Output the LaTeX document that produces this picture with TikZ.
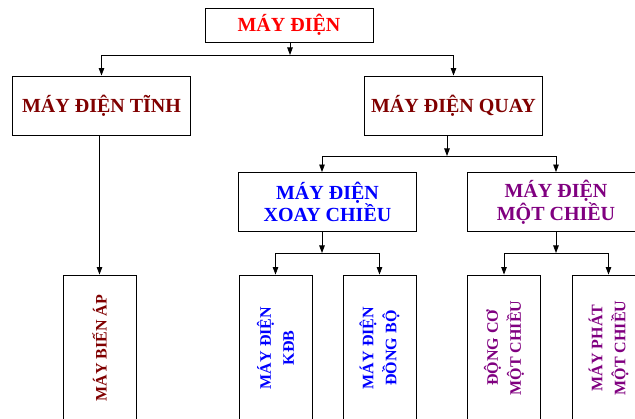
\documentclass[tikz,border=0pt]{standalone}
\usepackage{fontspec}
\setmainfont{Liberation Serif}
\usetikzlibrary{arrows.meta}

\definecolor{dkred}{RGB}{128,0,0}
\definecolor{dkpurple}{RGB}{128,0,128}

\tikzset{
  box/.style={draw, line width=0.9pt, align=center, inner sep=0pt,
    font=\fontsize{20}{20}\selectfont\bfseries},
  hbox/.style={box, minimum width=178pt, minimum height=59pt},
  vbox/.style={draw, line width=0.9pt, minimum width=73pt, minimum height=146pt, inner sep=0pt},
  vtext/.style={rotate=90, align=center, inner sep=0pt,
    font=\fontsize{16}{23}\selectfont\bfseries},
  arr/.style={line width=0.8pt, -{Triangle[length=7.5pt,width=5.5pt]}}
}

\begin{document}
\begin{tikzpicture}[x=1pt, y=-1pt]

\useasboundingbox (0,0) rectangle (635,419);
\clip (0,0) rectangle (635,419);

\node[box, minimum width=168pt, minimum height=34pt, text=red] (may) at (289,25) {MÁY ĐIỆN};

\node[hbox, text=dkred] (tinh) at (101.5,105.5) {MÁY ĐIỆN TĨNH};
\node[hbox, text=dkred] (quay) at (453.5,105.5) {MÁY ĐIỆN QUAY};

\node[hbox, text=blue] (xoay) at (327.5,202) {MÁY ĐIỆN\\XOAY CHIỀU};
\node[hbox, text=dkpurple] (mot) at (556,202) {MÁY ĐIỆN\\MỘT CHIỀU};

\node[vbox, label={[vtext, text=dkred]center:MÁY BIẾN ÁP}] (bienap) at (99.5,348) {};
\node[vbox, label={[vtext, text=blue]center:MÁY ĐIỆN\\KĐB}] (kdb) at (275.5,348) {};
\node[vbox, label={[vtext, text=blue]center:MÁY ĐIỆN\\ĐỒNG BỘ}] (dongbo) at (379.5,348) {};
\node[vbox, label={[vtext, text=dkpurple]center:ĐỘNG CƠ\\MỘT CHIỀU}] (dongco) at (504,348) {};
\node[vbox, label={[vtext, text=dkpurple]center:MÁY PHÁT\\MỘT CHIỀU}] (mayphat) at (608.5,348) {};

\coordinate (j1) at (290,55);
\coordinate (j2) at (447,156);
\coordinate (j3) at (322,253);
\coordinate (j4) at (556,253);

\draw[arr] (may.south -| j1) -- (j1);
\foreach \v in {tinh,quay}
{
    \draw[arr] (j1) -| (\v.north);
}

\draw[arr] (quay.south -| j2) -- (j2);
\draw[arr] (j2) -| (j3 |- xoay.north);
\draw[arr] (j2) -| (mot.north);

\draw[arr] (xoay.south -| j3) -- (j3);
\foreach \v in {kdb,dongbo}
{
    \draw[arr] (j3) -| (\v.north);
}

\draw[arr] (mot.south) -- (j4);
\foreach \v in {dongco,mayphat}
{
    \draw[arr] (j4) -| (\v.north);
}

\draw[arr] (tinh.south -| bienap.north) -- (bienap.north);

\end{tikzpicture}
\end{document}
